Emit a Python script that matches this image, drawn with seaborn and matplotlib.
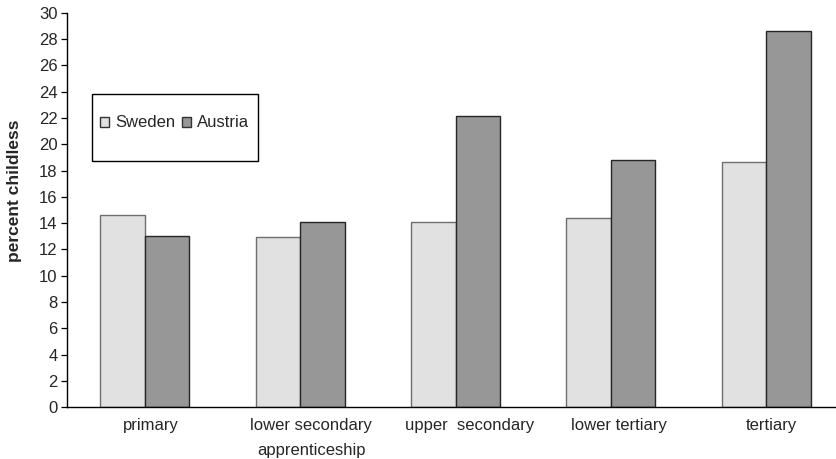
import pandas as pd
import seaborn as sns
import matplotlib.pyplot as plt
import matplotlib.transforms as mtransforms
from matplotlib.patches import Patch, Rectangle

# dados
niveis = ["primary", "lower secondary\napprenticeship", "upper  secondary", "lower tertiary", "tertiary"]
suecia = [14.65, 12.95, 14.1, 14.37, 18.68]
austria = [13.03, 14.09, 22.15, 18.78, 28.6]
paises = ["Sweden", "Austria"]
cores = {"Sweden": "#e1e1e1", "Austria": "#979797"}
bordas = {"Sweden": "#6e6e6e", "Austria": "#262626"}

dados = pd.DataFrame({
    "nivel": niveis * 2,
    "pais": ["Sweden"] * len(niveis) + ["Austria"] * len(niveis),
    "valor": suecia + austria,
})

sns.set_style("ticks")
plt.rcParams["font.family"] = ["Liberation Sans", "DejaVu Sans"]

fig = plt.figure(figsize=(8.36, 4.59), dpi=100)
ax = fig.add_axes([67.3 / 836, 0.1126, 776.4 / 836, 394.6 / 459])

sns.barplot(data=dados, x="nivel", y="valor", hue="pais", hue_order=paises,
            palette=cores, width=0.573, gap=0, legend=False, ax=ax,
            linewidth=1.0)
for cont, p in zip(ax.containers, paises):
    for barra in cont:
        barra.set_edgecolor(bordas[p])
        barra.set_linewidth(1.0)

ax.set_xlim(-0.5, 4.5)
ax.set_ylim(0, 30)
ax.set_yticks(range(0, 31, 2))
ax.tick_params(axis="y", labelsize=12, length=4, width=0.9, pad=3, color="black")
ax.tick_params(axis="x", labelsize=12, length=0, pad=7.5)
# rotulos do excel ficam um pouco deslocados para a direita
desloc = [6, 11, 14, 8.5, 5.5]
for lbl, d in zip(ax.get_xticklabels(), desloc):
    lbl.set_linespacing(1.85)
    lbl.set_transform(lbl.get_transform() + mtransforms.ScaledTranslation(d / 100, 0, fig.dpi_scale_trans))

sns.despine(ax=ax)
for s in ["left", "bottom"]:
    ax.spines[s].set_color("black")
    ax.spines[s].set_linewidth(1.0)

ax.set_xlabel("")
ax.set_ylabel("percent childless", fontsize=12.5, fontweight="bold")
ax.yaxis.set_label_coords(-0.058, 0.548)

# legenda com caixa maior, como no original
caixa = Rectangle((92.3 / 836, 1 - 161 / 459), (257.7 - 92.3) / 836, 67 / 459,
                  transform=fig.transFigure, facecolor="white", edgecolor="black",
                  linewidth=1.0, zorder=5)
fig.patches.append(caixa)
alcas = [Patch(facecolor=cores[p], edgecolor="#333333", linewidth=1.0, label=p) for p in paises]
leg = fig.legend(handles=alcas, ncol=2, frameon=False, fontsize=12,
                 loc="center", bbox_to_anchor=(174.5 / 836, 1 - 123 / 459),
                 handlelength=0.55, handleheight=0.55, handletextpad=0.35,
                 columnspacing=0.4, borderpad=0)
leg.set_zorder(6)

plt.savefig("out.png", dpi=100)
